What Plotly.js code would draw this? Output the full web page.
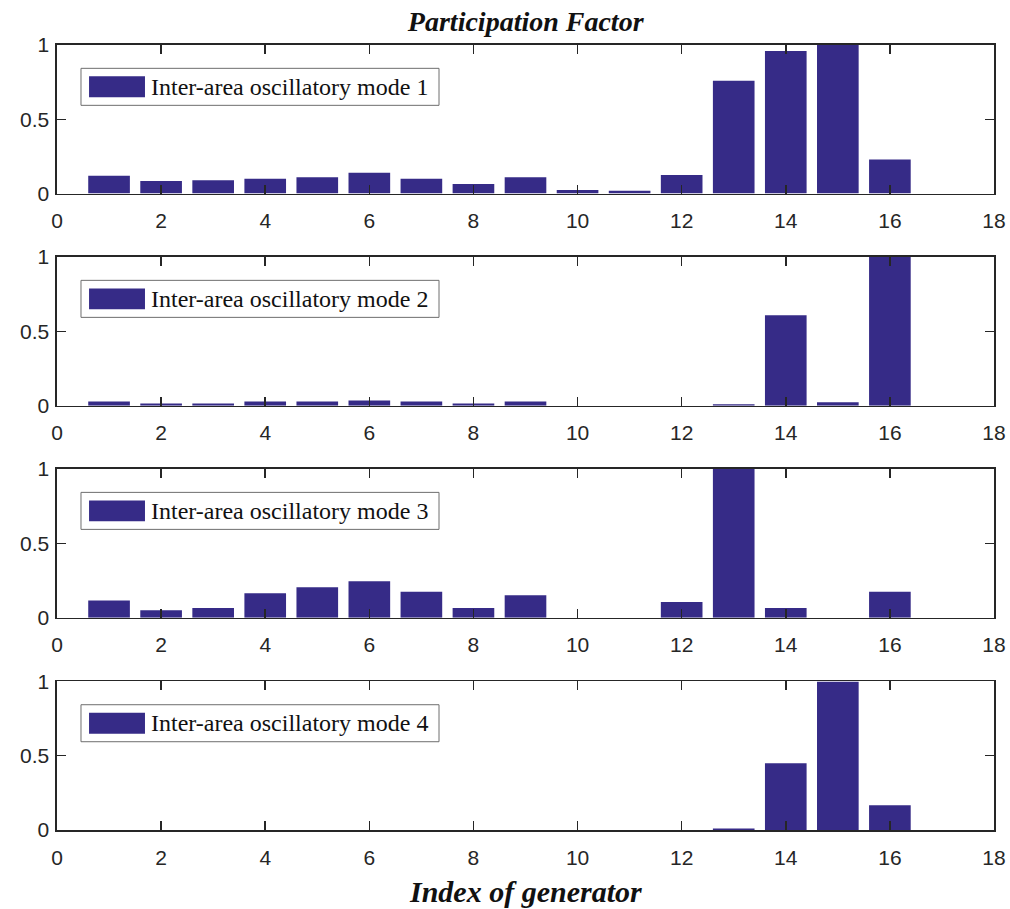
<!DOCTYPE html>
<html>
<head>
<meta charset="utf-8">
<script src="https://cdn.plot.ly/plotly-3.0.1.min.js"></script>
<style>html,body{margin:0;padding:0;background:#fff;}#chart{width:1010px;height:909px;}</style>
</head>
<body>
<div id="chart"></div>
<script>
// Data
const generators = [1,2,3,4,5,6,7,8,9,10,11,12,13,14,15,16];
const mode1 = [0.12,0.085,0.09,0.10,0.11,0.14,0.10,0.065,0.11,0.025,0.02,0.125,0.76,0.96,1.0,0.23];
const mode2 = [0.027,0.015,0.015,0.027,0.027,0.035,0.027,0.015,0.027,0,0,0,0.009,0.608,0.022,1.0];
const mode3 = [0.115,0.05,0.065,0.165,0.205,0.245,0.175,0.065,0.15,0,0,0.105,1.0,0.065,0,0.175];
const mode4 = [0,0,0,0,0,0,0,0,0,0,0,0,0.01,0.45,1.0,0.167];
const seriesNames = ["Inter-area oscillatory mode 1","Inter-area oscillatory mode 2","Inter-area oscillatory mode 3","Inter-area oscillatory mode 4"];
const xTicks = [0,2,4,6,8,10,12,14,16,18];
const yTicks = [0,0.5,1];
const yTickText = ["0","0.5","1"];
const titleText = "Participation Factor";
const xTitleText = "Index of generator";

const barColor = "#362b87";
const axisColor = "#262626";
const allSeries = [mode1, mode2, mode3, mode4];

const gap = 0.0808, h = 0.1893;
const domains = [[1-h,1],[1-2*h-gap,1-h-gap],[1-3*h-2*gap,1-2*h-2*gap],[0,h]];

const traces = [];
const layout = {
  width: 1010, height: 909,
  margin: {l:57, r:16, t:45, b:79},
  paper_bgcolor: "#fff", plot_bgcolor: "#fff",
  showlegend: false,
  bargap: 0.2,
  font: {family: "Liberation Sans, Arial, sans-serif", color: axisColor, size: 21},
  title: {text: "<b><i>" + titleText + "</i></b>", font: {family: "Liberation Serif, Times New Roman, serif", size: 28, color: "#111"}, x: 0.5205, xanchor: "center", y: 0.977, yanchor: "middle"},
  shapes: [], annotations: []
};

allSeries.forEach((vals, i) => {
  const n = i === 0 ? "" : String(i+1);
  traces.push({type: "bar", x: generators, y: vals, name: seriesNames[i], marker: {color: barColor, line: {width: 0}}, xaxis: "x"+n, yaxis: "y"+n, hoverinfo: "x+y"});
  const axCommon = {showline: true, linecolor: axisColor, linewidth: 1.6, mirror: "ticks", ticks: "inside", ticklen: 9, tickwidth: 1.5, tickcolor: axisColor, showgrid: false, zeroline: false, tickfont: {size: 21, color: axisColor, family: "Liberation Sans, Arial, sans-serif"}, fixedrange: true};
  layout["xaxis"+n] = Object.assign({}, axCommon, {range: [0,18], tickvals: xTicks, ticktext: xTicks.map(String), anchor: "y"+n, domain: [0,1], ticklabelstandoff: 8});
  layout["yaxis"+n] = Object.assign({}, axCommon, {range: [0,1], tickvals: yTicks, ticktext: yTickText, anchor: "x"+n, domain: domains[i], ticklabelstandoff: 2});
  const xd = "x"+n+" domain", yd = "y"+n+" domain";
  // legend box
  layout.shapes.push({type: "rect", xref: xd, yref: yd, x0: 0.0256, x1: 0.4077, y0: 0.594, y1: 0.843, fillcolor: "#fff", line: {color: "#6e6e6e", width: 1}, layer: "above"});
  layout.shapes.push({type: "rect", xref: xd, yref: yd, x0: 0.0342, x1: 0.0939, y0: 0.648, y1: 0.789, fillcolor: barColor, line: {width: 0}, layer: "above"});
  layout.annotations.push({xref: xd, yref: yd, x: 0.0983, y: 0.718, xanchor: "left", yanchor: "middle", showarrow: false, text: seriesNames[i], font: {family: "Liberation Serif, Times New Roman, serif", size: 24, color: "#111"}});
});

layout.annotations.push({xref: "paper", yref: "paper", x: 0.5, y: -0.078, xanchor: "center", yanchor: "middle", showarrow: false, text: "<b><i>" + xTitleText + "</i></b>", font: {family: "Liberation Serif, Times New Roman, serif", size: 30, color: "#111"}});

Plotly.newPlot("chart", traces, layout, {displayModeBar: false, staticPlot: true});
</script>
</body>
</html>
